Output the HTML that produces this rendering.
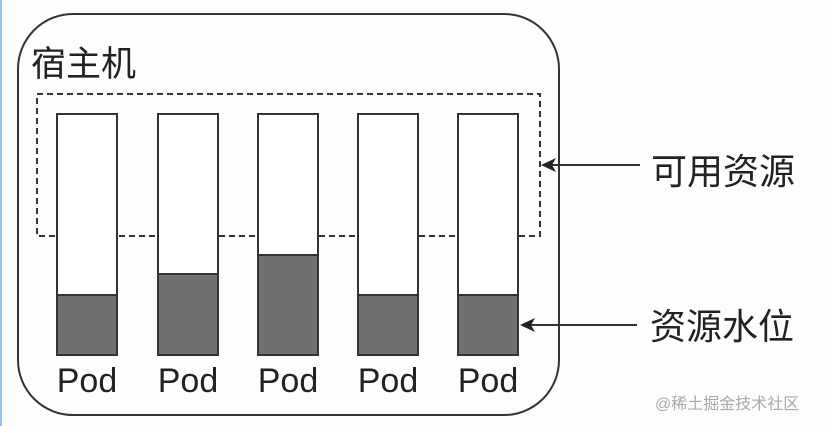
<!DOCTYPE html>
<html><head><meta charset="utf-8"><style>
body{margin:0;background:#fff;}
svg{display:block}
text{font-family:"Liberation Sans","Noto Sans CJK SC",sans-serif;fill:#222}
</style></head><body>
<svg width="825" height="426" viewBox="0 0 825 426">
<rect x="0" y="0" width="825" height="426" fill="#fdfdfd"/>
<rect x="0" y="0" width="2" height="426" fill="#9cc3e6"/>
<rect x="18" y="14" width="541" height="401" rx="55" ry="55" fill="none" stroke="#333" stroke-width="2"/>
<text x="31" y="76" font-size="35">宿主机</text>
<rect x="37" y="94" width="503" height="142" fill="none" stroke="#333" stroke-width="2" stroke-dasharray="6,4"/>
<g stroke="#333" stroke-width="2">
<rect x="57" y="114" width="60" height="241" fill="#fff"/>
<rect x="57" y="295" width="60" height="60" fill="#707070"/>
<rect x="158" y="114" width="60" height="241" fill="#fff"/>
<rect x="158" y="274" width="60" height="81" fill="#707070"/>
<rect x="258" y="114" width="60" height="241" fill="#fff"/>
<rect x="258" y="255" width="60" height="100" fill="#707070"/>
<rect x="358" y="114" width="60" height="241" fill="#fff"/>
<rect x="358" y="295" width="60" height="60" fill="#707070"/>
<rect x="458" y="114" width="60" height="241" fill="#fff"/>
<rect x="458" y="295" width="60" height="60" fill="#707070"/>
</g>
<g font-size="34" text-anchor="middle">
<text x="87" y="392">Pod</text><text x="188" y="392">Pod</text><text x="288" y="392">Pod</text><text x="388" y="392">Pod</text><text x="488" y="392">Pod</text>
</g>
<line x1="548" y1="165" x2="640" y2="165" stroke="#333" stroke-width="2"/>
<polygon points="541,165 556,158 552,165 556,172" fill="#222"/>
<line x1="527" y1="325" x2="637" y2="325" stroke="#333" stroke-width="2"/>
<polygon points="520,325 535,318 531,325 535,332" fill="#222"/>
<text x="651" y="184" font-size="36">可用资源</text>
<text x="650" y="339" font-size="36">资源水位</text>
<text x="655" y="409" font-size="16" style="fill:#aaa">@稀土掘金技术社区</text>
</svg>
</body></html>
